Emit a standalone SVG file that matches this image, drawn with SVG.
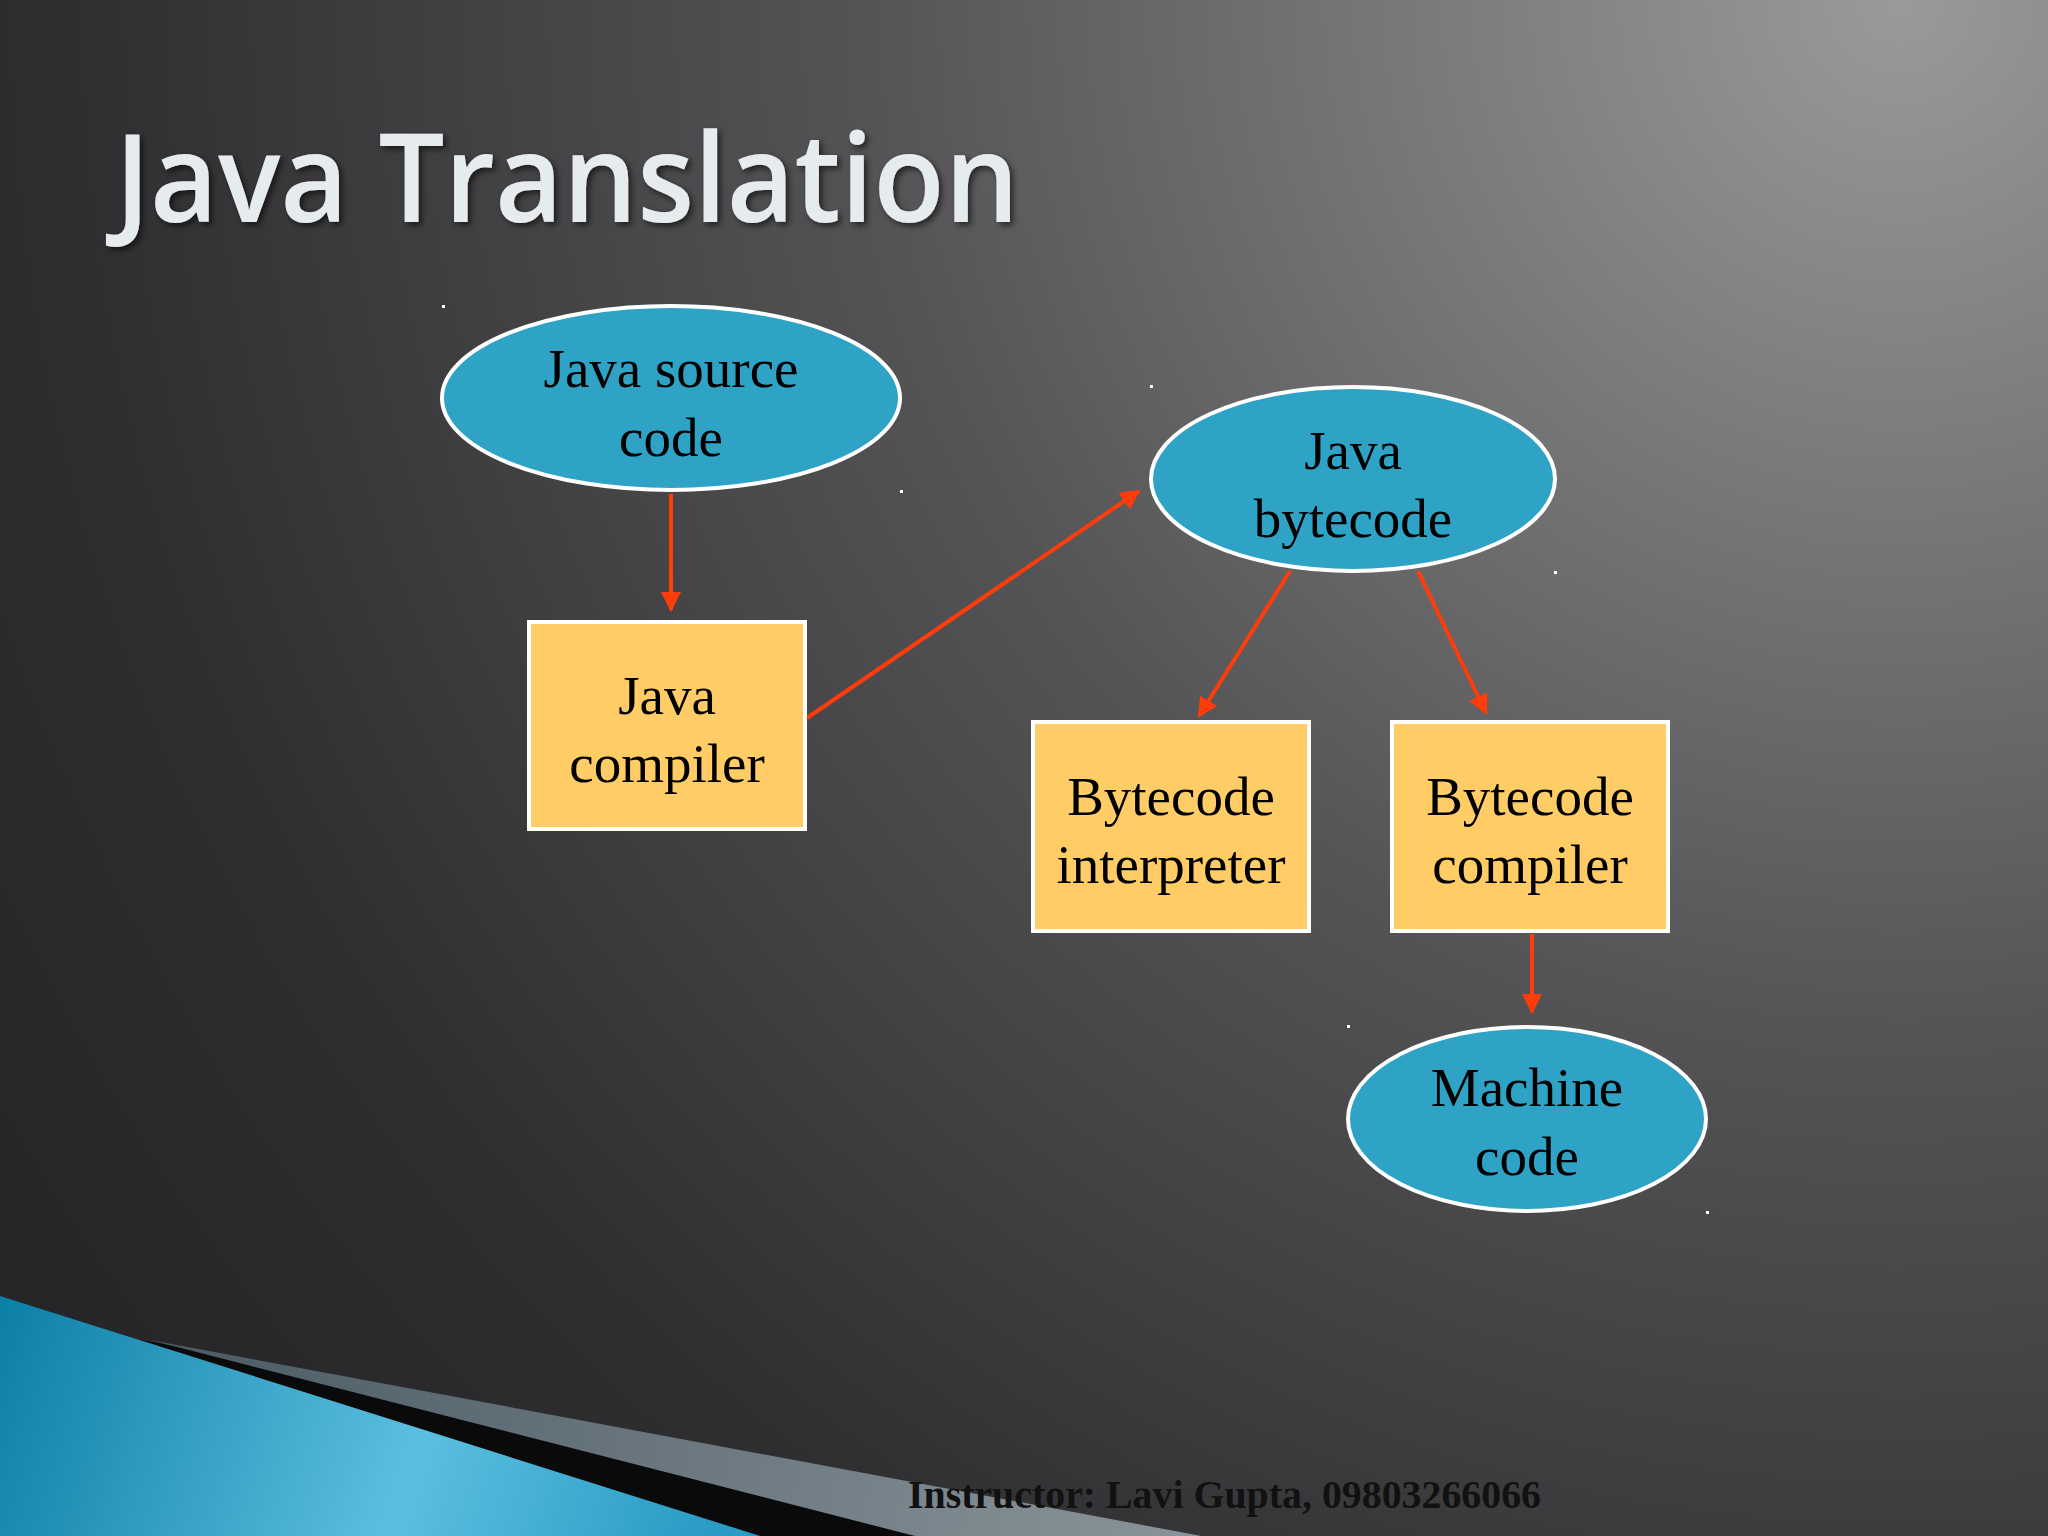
<svg xmlns="http://www.w3.org/2000/svg" width="2048" height="1536" viewBox="0 0 2048 1536">
<defs>
<radialGradient id="bg" cx="1900" cy="0" r="2300" gradientUnits="userSpaceOnUse">
<stop offset="0" stop-color="#9a9a9a"/><stop offset="0.45" stop-color="#545456"/><stop offset="0.8" stop-color="#2e2e30"/><stop offset="1" stop-color="#252527"/>
</radialGradient>
<linearGradient id="blue" x1="0" y1="1300" x2="700" y2="1536" gradientUnits="userSpaceOnUse">
<stop offset="0" stop-color="#0c7fa6"/><stop offset="0.6" stop-color="#5bbfe0"/><stop offset="1" stop-color="#2a9cc6"/>
</linearGradient>
<linearGradient id="gray" x1="150" y1="1340" x2="1200" y2="1536" gradientUnits="userSpaceOnUse">
<stop offset="0" stop-color="#4a5a64"/><stop offset="1" stop-color="#8a949a"/>
</linearGradient>
<filter id="sh" x="-5%" y="-20%" width="110%" height="140%"><feDropShadow dx="3" dy="3" stdDeviation="3" flood-color="#000" flood-opacity="0.6"/></filter>
<marker id="ah" viewBox="0 0 10 10" refX="9" refY="5" markerWidth="5" markerHeight="5" orient="auto" markerUnits="strokeWidth"><path d="M0,0 L10,5 L0,10 z" fill="#ff3c0a"/></marker>
<style>
.ell{fill:#2ea3c6;stroke:#ffffff;stroke-width:4}
.box{fill:#ffcc66;stroke:#ffffff;stroke-width:4}
.t{font-family:"Liberation Serif",serif;font-size:55px;fill:#000;text-anchor:middle}
.c{stroke:#ff3c0a;stroke-width:4;fill:none;marker-end:url(#ah)}
.dot{fill:#fff}
</style>
</defs>
<rect width="2048" height="1536" fill="url(#bg)"/>
<polygon points="0,1296 130,1338 1202,1536 760,1536" fill="#0a0a0a"/>
<polygon points="150,1340 1202,1536 915,1536" fill="url(#gray)"/>
<polygon points="0,1296 760,1536 0,1536" fill="url(#blue)"/>
<text x="115" y="222" font-family="Open Sans,sans-serif" font-weight="600" font-size="124" fill="#e6ecee" textLength="904" lengthAdjust="spacingAndGlyphs" filter="url(#sh)">Java Translation</text>
<g id="connectors">
<line class="c" x1="671" y1="494" x2="671" y2="610"/>
<line class="c" x1="807" y1="718" x2="1139" y2="491"/>
<line class="c" x1="1290" y1="571" x2="1199" y2="716"/>
<line class="c" x1="1418" y1="571" x2="1486" y2="713"/>
<line class="c" x1="1532" y1="934" x2="1532" y2="1012"/>
</g>
<g id="src"><ellipse class="ell" cx="671" cy="398" rx="229" ry="92"/><text class="t" x="671" y="387">Java source</text><text class="t" x="671" y="456">code</text></g>
<g id="bytecode"><ellipse class="ell" cx="1353" cy="479" rx="202" ry="92"/><text class="t" x="1353" y="469">Java</text><text class="t" x="1353" y="537">bytecode</text></g>
<g id="javac"><rect class="box" x="529" y="622" width="276" height="207"/><text class="t" x="667" y="714">Java</text><text class="t" x="667" y="782">compiler</text></g>
<g id="interp"><rect class="box" x="1033" y="722" width="276" height="209"/><text class="t" x="1171" y="815">Bytecode</text><text class="t" x="1171" y="883">interpreter</text></g>
<g id="bcc"><rect class="box" x="1392" y="722" width="276" height="209"/><text class="t" x="1530" y="815">Bytecode</text><text class="t" x="1530" y="883">compiler</text></g>
<g id="machine"><ellipse class="ell" cx="1527" cy="1119" rx="179" ry="92"/><text class="t" x="1527" y="1106">Machine</text><text class="t" x="1527" y="1175">code</text></g>
<rect class="dot" x="442" y="305" width="3" height="3"/><rect class="dot" x="900" y="490" width="3" height="3"/><rect class="dot" x="1150" y="385" width="3" height="3"/><rect class="dot" x="1554" y="571" width="3" height="3"/><rect class="dot" x="1347" y="1025" width="3" height="3"/><rect class="dot" x="1706" y="1211" width="3" height="3"/>
<text x="908" y="1508" font-family="Liberation Serif,serif" font-weight="bold" font-size="39" fill="#111" textLength="633" lengthAdjust="spacingAndGlyphs">Instructor: Lavi Gupta, 09803266066</text>
</svg>
